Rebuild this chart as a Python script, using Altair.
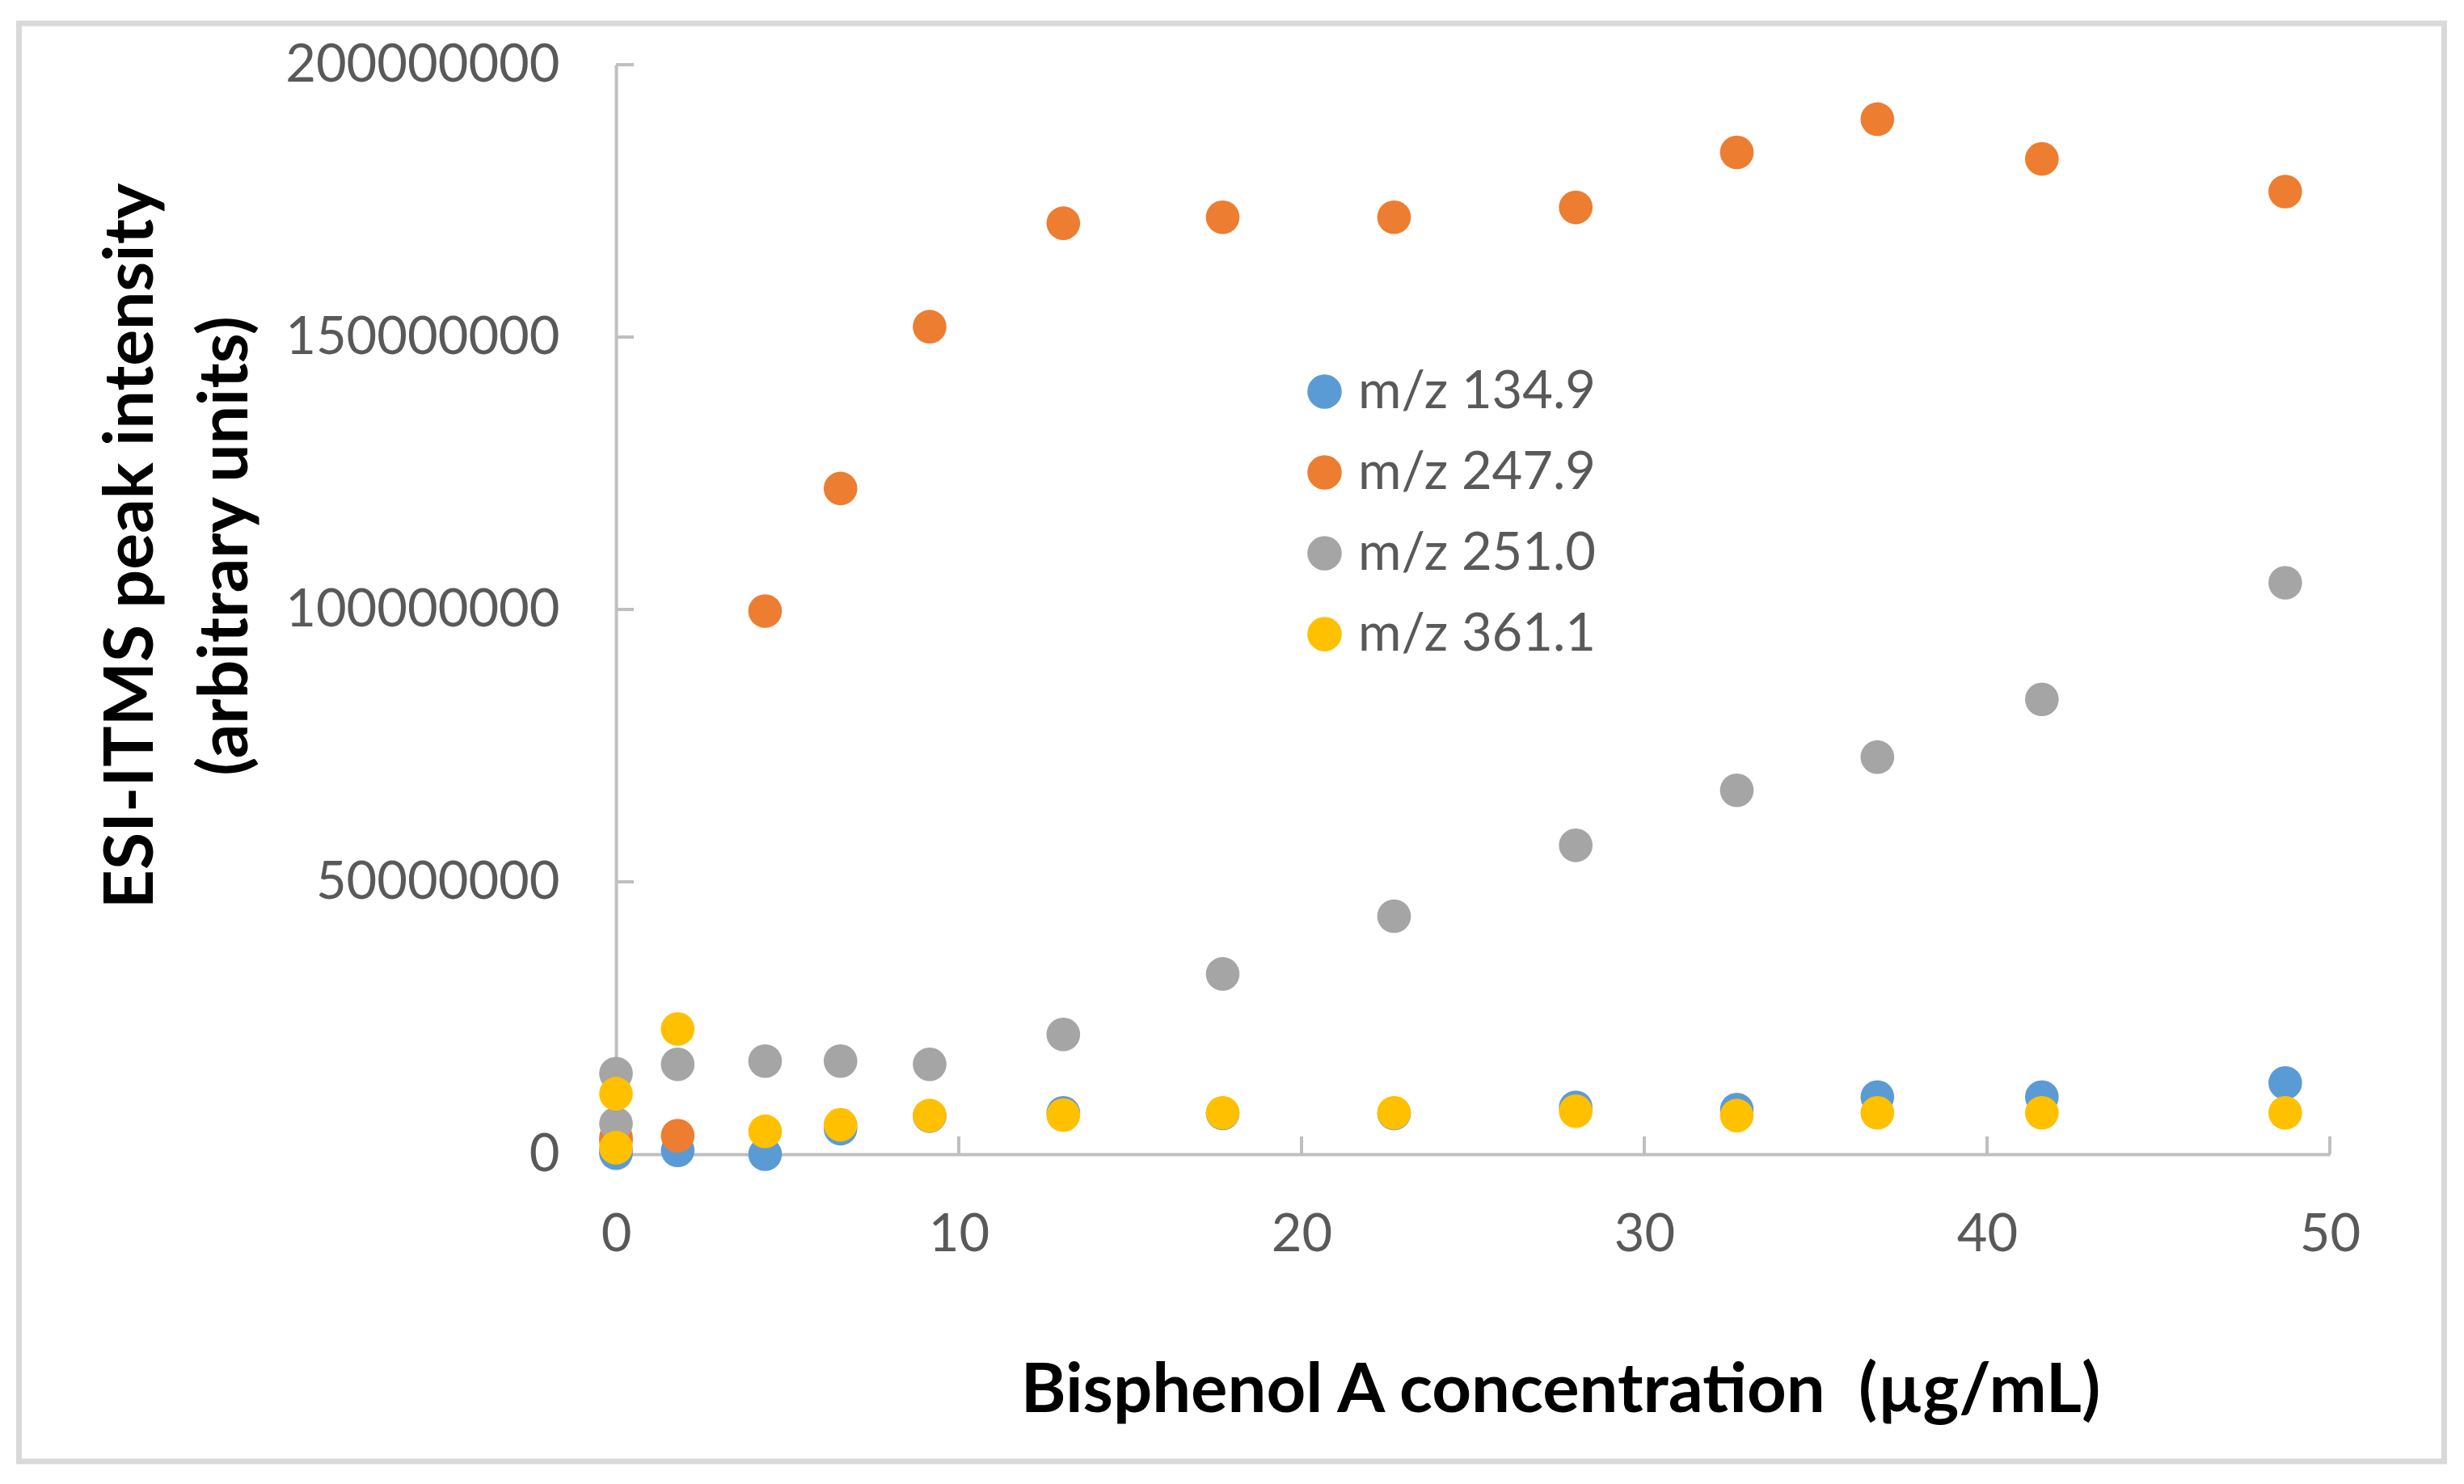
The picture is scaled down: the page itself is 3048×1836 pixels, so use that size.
import altair as alt
import pandas as pd

# Bisphenol A concentration (ug/mL)
conc = [0, 0, 1.8, 4.35, 6.55, 9.15, 13.05, 17.7, 22.7, 28.0, 32.7, 36.8, 41.6, 48.7]

# Peak intensities in millions (arbitrary units)
mz_134_9 = [0.2, 0.5, 0.7, 0.0, 4.7, 7.0, 7.6, 7.5, 7.5, 8.6, 8.2, 10.5, 10.5, 13.1]
mz_247_9 = [3.1, 2.5, 3.4, 99.7, 122.2, 151.9, 170.9, 172.0, 172.0, 173.8, 183.9, 190.0, 182.7, 176.7]
mz_251_0 = [14.8, 5.6, 16.5, 17.1, 17.1, 16.5, 22.0, 33.1, 43.7, 56.7, 66.8, 72.9, 83.5, 104.9]
mz_361_1 = [11.1, 1.2, 23.0, 4.2, 5.4, 7.1, 7.2, 7.6, 7.6, 7.9, 7.1, 7.6, 7.6, 7.6]

series_names = ["m/z 134.9", "m/z 247.9", "m/z 251.0", "m/z 361.1"]
series_colors = ["#5B9BD5", "#ED7D31", "#A5A5A5", "#FFC000"]
series_values = [mz_134_9, mz_247_9, mz_251_0, mz_361_1]

x_ticks = [0, 10, 20, 30, 40, 50]
y_ticks = [0, 50000000, 100000000, 150000000, 200000000]

rows = []
for name, vals in zip(series_names, series_values):
    for c, v in zip(conc, vals):
        rows.append({"conc": c, "intensity": v * 1e6, "series": name})
df = pd.DataFrame(rows)

W, H = 2120, 1348
LABEL_FONT = "Lato"
TITLE_FONT = "Lato"

x_scale = alt.Scale(domain=[0, 50], nice=False, zero=False)
y_scale = alt.Scale(domain=[0, 200000000], nice=False)

x_axis = alt.Axis(
    values=x_ticks,
    format="d",
    title="Bisphenol A concentration \u00a0(µg/mL)",
    titleFont=TITLE_FONT,
    titleFontSize=85,
    titleFontWeight="bold",
    titleColor="#000000",
    titleX=1168,
    titleY=318,
    titleAlign="center",
    titleBaseline="alphabetic",
    labelFont=LABEL_FONT,
    labelFontSize=65,
    labelColor="#595959",
    labelPadding=68,
    labelBaseline="top",
    labelFlush=False,
    labelLimit=600,
    ticks=False,
    grid=False,
    domainColor="#BFBFBF",
    domainWidth=4,
)
y_axis = alt.Axis(
    values=y_ticks,
    format="d",
    title=["ESI-ITMS peak intensity", "(arbitrary units)"],
    titleFont=TITLE_FONT,
    titleFontSize=84,
    titleFontWeight="bold",
    titleColor="#000000",
    titleAngle=270,
    titleX=-599,
    titleY=595,
    titleAlign="center",
    titleBaseline="middle",
    titleLineHeight=117,
    labelFont=LABEL_FONT,
    labelFontSize=65,
    labelColor="#595959",
    labelPadding=70,
    labelFlush=False,
    labelLimit=600,
    ticks=False,
    grid=False,
    domainColor="#BFBFBF",
    domainWidth=4,
)

points = alt.Chart(df).mark_circle(size=1735, opacity=1).encode(
    x=alt.X("conc:Q", scale=x_scale, axis=x_axis),
    y=alt.Y("intensity:Q", scale=y_scale, axis=y_axis),
    color=alt.Color(
        "series:N",
        scale=alt.Scale(domain=series_names, range=series_colors),
        legend=alt.Legend(
            title=None,
            orient="none",
            legendX=844,
            legendY=372,
            padding=0,
            symbolType="circle",
            symbolSize=1810,
            symbolStrokeWidth=0,
            labelFont=LABEL_FONT,
            labelFontSize=65,
            labelColor="#595959",
            labelOffset=9,
            rowPadding=34,
            labelLimit=600,
        ),
    ),
)

xt = alt.Chart(pd.DataFrame({"conc": x_ticks[1:]})).mark_rule(color="#BFBFBF", strokeWidth=4).encode(
    x=alt.X("conc:Q", scale=x_scale, axis=x_axis),
    y=alt.value(H),
    y2=alt.value(H - 22),
)
yt = alt.Chart(pd.DataFrame({"intensity": y_ticks[1:]})).mark_rule(color="#BFBFBF", strokeWidth=4).encode(
    y=alt.Y("intensity:Q", scale=y_scale, axis=y_axis),
    x=alt.value(0),
    x2=alt.value(22),
)
frame = alt.Chart(pd.DataFrame({"a": [0]})).mark_rect(
    fill="transparent", stroke="#D9D9D9", strokeWidth=7
).encode(
    x=alt.value(-738.5),
    x2=alt.value(2261.5),
    y=alt.value(-51),
    y2=alt.value(1728),
)

chart = alt.layer(frame, xt, yt, points).properties(
    width=W,
    height=H,
    background="#FFFFFF",
    padding={"left": 754, "top": 72, "right": 150, "bottom": 390},
    autosize=alt.AutoSizeParams(type="none"),
).configure_view(strokeWidth=0, stroke="transparent")

chart.save("out.html", embed_options={"renderer": "svg", "actions": False})
